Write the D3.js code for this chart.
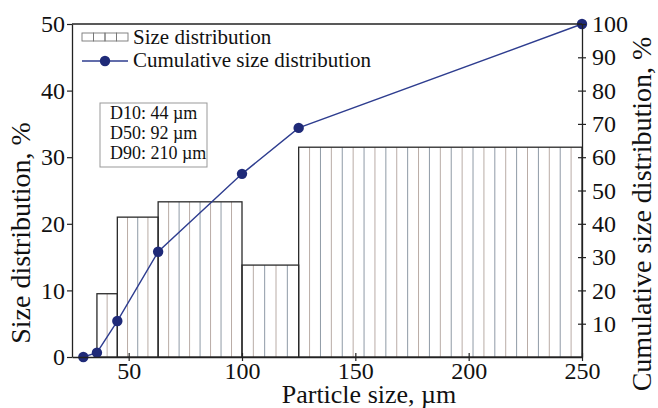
<!DOCTYPE html>
<html>
<head>
<meta charset="utf-8">
<script src="https://cdn.jsdelivr.net/npm/d3@7"></script>
<style>
  html, body { margin: 0; padding: 0; background: #fff; }
  svg { display: block; }
  text { font-family: "Liberation Serif", "Times New Roman", serif; fill: #111; }
</style>
</head>
<body>
<svg id="chart" width="658" height="408"></svg>
<script>
// ---- data ----
const binStart = [36, 45, 63, 100, 125];
const binEnd   = [45, 63, 100, 125, 250];
const binValue = [9.5, 21, 23.3, 13.8, 31.5];

const cumSize  = [30, 36, 45, 63, 100, 125, 250];
const cumValue = [0, 1.3, 10.8, 31.6, 55, 68.8, 100];

const xTicks      = [50, 100, 150, 200, 250];
const yLeftTicks  = [0, 10, 20, 30, 40, 50];
const yRightTicks = [10, 20, 30, 40, 50, 60, 70, 80, 90, 100];

const legendLabels = ["Size distribution", "Cumulative size distribution"];
const dLabels = ["D10: 44 \u00b5m", "D50: 92 \u00b5m", "D90: 210 \u00b5m"];
const xTitle = "Particle size, \u00b5m";
const yLeftTitle = "Size distribution, %";
const yRightTitle = "Cumulative size distribution, %";

// ---- layout ----
const L = 72, R = 582, T = 24, B = 357;
const svg = d3.select("#chart");

const x = d3.scaleLinear().domain([25, 250]).range([L, R]);
const yL = d3.scaleLinear().domain([0, 50]).range([B, T]);
const yR = d3.scaleLinear().domain([0, 100]).range([B, T]);

const bars = binStart.map((s, i) => ({ s, e: binEnd[i], v: binValue[i] }));
const hatchColors = ["#8f9aa6", "#b9aca6"];

// bars with vertical hatching
const gBars = svg.append("g");
bars.forEach(d => {
  const x0 = x(d.s), x1 = x(d.e), y0 = yL(d.v);
  const w = x1 - x0;
  const n = Math.max(1, Math.round(w / 11));
  const g = gBars.append("g");
  for (let k = 1; k < n; k++) {
    const xx = x0 + w * k / n;
    g.append("line")
      .attr("x1", xx).attr("x2", xx)
      .attr("y1", y0).attr("y2", B)
      .attr("stroke", hatchColors[k % 2]).attr("stroke-width", 1);
  }
  g.append("rect")
    .attr("x", x0).attr("y", y0)
    .attr("width", w).attr("height", B - y0)
    .attr("fill", "none").attr("stroke", "#2a2a2a").attr("stroke-width", 1.3);
});

// cumulative line
const lineColor = "#2e3d8f";
const pts = cumSize.map((s, i) => ({ s, v: cumValue[i] }));
svg.append("path")
  .datum(pts)
  .attr("fill", "none")
  .attr("stroke", lineColor)
  .attr("stroke-width", 1.4)
  .attr("d", d3.line().x(d => x(d.s)).y(d => yR(d.v)));
svg.append("g").selectAll("circle").data(pts).join("circle")
  .attr("cx", d => x(d.s)).attr("cy", d => yR(d.v))
  .attr("r", 5.2).attr("fill", "#1f2a78");

// frame
svg.append("line").attr("x1", L).attr("x2", R).attr("y1", T).attr("y2", T)
  .attr("stroke", "#222").attr("stroke-width", 1.3);

// axes
const styleAxis = g => {
  g.select(".domain").attr("stroke", "#222").attr("stroke-width", 1.3);
  g.selectAll(".tick line").attr("stroke", "#222").attr("stroke-width", 1.2);
  g.selectAll("text").attr("font-family", "Liberation Serif, serif").attr("fill", "#111");
};

const ax = svg.append("g").attr("transform", `translate(0,${B})`)
  .call(d3.axisBottom(x).tickValues(xTicks).tickSizeInner(4).tickSizeOuter(0).tickPadding(1).tickFormat(d3.format("d")));
styleAxis(ax);
ax.selectAll(".tick line").attr("y1", -4).attr("y2", 4);
ax.selectAll("text").attr("font-size", 24).attr("dy", "0.71em");

const ayl = svg.append("g").attr("transform", `translate(${L},0)`)
  .call(d3.axisLeft(yL).tickValues(yLeftTicks).tickSizeInner(5).tickSizeOuter(0).tickPadding(2).tickFormat(d3.format("d")));
styleAxis(ayl);
ayl.selectAll("text").attr("font-size", 24);

const ayr = svg.append("g").attr("transform", `translate(${R},0)`)
  .call(d3.axisRight(yR).tickValues(yRightTicks).tickSizeInner(4).tickSizeOuter(0).tickPadding(6).tickFormat(d3.format("d")));
styleAxis(ayr);
ayr.selectAll(".tick line").attr("x1", -4).attr("x2", 4);
ayr.selectAll("text").attr("font-size", 24);

// axis titles
svg.append("text").attr("x", (L + R) / 2 + 42).attr("y", 403)
  .attr("text-anchor", "middle").attr("font-size", 26).text(xTitle);
svg.append("text").attr("transform", `translate(30,${233}) rotate(-90)`)
  .attr("text-anchor", "middle").attr("font-size", 28).text(yLeftTitle);
svg.append("text").attr("transform", `translate(651,${214}) rotate(-90)`)
  .attr("text-anchor", "middle").attr("font-size", 28).text(yRightTitle);

// legend
const lg = svg.append("g");
const sw0 = 82, sw1 = 128;
const nCells = 4;
for (let k = 0; k < nCells; k++) {
  const cw = (sw1 - sw0) / nCells;
  lg.append("rect").attr("x", sw0 + k * cw).attr("y", 33).attr("width", cw).attr("height", 8)
    .attr("fill", "none").attr("stroke", "#777").attr("stroke-width", 0.9);
}
lg.append("text").attr("x", 133).attr("y", 44).attr("font-size", 21).text(legendLabels[0]);
lg.append("line").attr("x1", sw0).attr("x2", sw1).attr("y1", 61).attr("y2", 61)
  .attr("stroke", lineColor).attr("stroke-width", 1.4);
lg.append("circle").attr("cx", (sw0 + sw1) / 2).attr("cy", 61).attr("r", 5.2).attr("fill", "#1f2a78");
lg.append("text").attr("x", 133).attr("y", 67).attr("font-size", 21).text(legendLabels[1]);

// D-values box
const db = svg.append("g");
db.append("rect").attr("x", 100).attr("y", 103).attr("width", 107).attr("height", 64)
  .attr("fill", "#fff").attr("stroke", "#999").attr("stroke-width", 1);
dLabels.forEach((t, i) => {
  db.append("text").attr("x", 110).attr("y", 119 + i * 20).attr("font-size", 18).text(t);
});
</script>
</body>
</html>
